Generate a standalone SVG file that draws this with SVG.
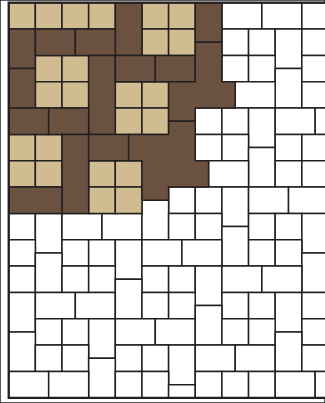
<svg xmlns="http://www.w3.org/2000/svg" width="325" height="403" viewBox="0 0 325 403">
<style>
rect, polygon { stroke: #231f20; stroke-width: 1.5; vector-effect: non-scaling-stroke; stroke-linejoin: miter; }
.w { fill: #ffffff; }
.t { fill: #d1bc92; }
.d { fill: #6b5240; }
.frame { fill: none; stroke-width: 2.2; }
</style>
<rect x="0" y="0" width="325" height="403" fill="#ffffff" stroke="none"/>
<g id="paving" transform="translate(8.7,2.7) scale(13.325,13.17)">
<g id="white-tiles" class="w">
<rect x="16" y="0" width="3" height="2"/>
<rect x="19" y="0" width="3" height="2"/>
<rect x="22" y="0" width="3" height="2"/>
<rect x="16" y="2" width="2" height="2"/>
<rect x="18" y="2" width="2" height="2"/>
<rect x="20" y="2" width="2" height="3"/>
<rect x="22" y="2" width="2" height="2"/>
<rect x="16" y="4" width="2" height="2"/>
<rect x="18" y="4" width="2" height="2"/>
<rect x="20" y="5" width="2" height="3"/>
<rect x="22" y="4" width="2" height="2"/>
<rect x="17" y="6" width="3" height="2"/>
<rect x="22" y="6" width="2" height="2"/>
<rect x="14" y="8" width="2" height="2"/>
<rect x="16" y="8" width="2" height="2"/>
<rect x="18" y="8" width="2" height="3"/>
<rect x="20" y="8" width="3" height="2"/>
<rect x="23" y="8" width="3" height="2"/>
<rect x="14" y="10" width="2" height="2"/>
<rect x="16" y="10" width="2" height="2"/>
<rect x="18" y="11" width="2" height="3"/>
<rect x="20" y="10" width="2" height="2"/>
<rect x="22" y="10" width="2" height="2"/>
<rect x="15" y="12" width="3" height="2"/>
<rect x="20" y="12" width="2" height="2"/>
<rect x="22" y="12" width="2" height="2"/>
<rect x="12" y="14" width="2" height="2"/>
<rect x="14" y="14" width="2" height="2"/>
<rect x="16" y="14" width="2" height="3"/>
<rect x="18" y="14" width="3" height="2"/>
<rect x="21" y="14" width="3" height="2"/>
<rect x="0" y="16" width="2" height="2"/>
<rect x="2" y="16" width="2" height="3"/>
<rect x="4" y="16" width="3" height="2"/>
<rect x="7" y="16" width="3" height="2"/>
<rect x="10" y="15" width="2" height="3"/>
<rect x="12" y="16" width="2" height="2"/>
<rect x="14" y="16" width="2" height="2"/>
<rect x="16" y="17" width="2" height="3"/>
<rect x="18" y="16" width="2" height="2"/>
<rect x="20" y="16" width="2" height="2"/>
<rect x="22" y="16" width="2" height="3"/>
<rect x="0" y="18" width="2" height="2"/>
<rect x="4" y="18" width="2" height="2"/>
<rect x="6" y="18" width="2" height="2"/>
<rect x="8" y="18" width="2" height="3"/>
<rect x="10" y="18" width="3" height="2"/>
<rect x="13" y="18" width="3" height="2"/>
<rect x="18" y="18" width="2" height="2"/>
<rect x="20" y="18" width="2" height="2"/>
<rect x="22" y="19" width="2" height="3"/>
<rect x="0" y="20" width="2" height="2"/>
<rect x="2" y="19" width="2" height="3"/>
<rect x="4" y="20" width="2" height="2"/>
<rect x="6" y="20" width="2" height="2"/>
<rect x="10" y="20" width="2" height="2"/>
<rect x="12" y="20" width="2" height="2"/>
<rect x="14" y="20" width="2" height="3"/>
<rect x="16" y="20" width="3" height="2"/>
<rect x="19" y="20" width="3" height="2"/>
<rect x="0" y="22" width="2" height="3"/>
<rect x="2" y="22" width="3" height="2"/>
<rect x="5" y="22" width="3" height="2"/>
<rect x="8" y="21" width="2" height="3"/>
<rect x="10" y="22" width="2" height="2"/>
<rect x="12" y="22" width="2" height="2"/>
<rect x="16" y="22" width="2" height="2"/>
<rect x="18" y="22" width="2" height="2"/>
<rect x="20" y="22" width="2" height="3"/>
<rect x="22" y="22" width="2" height="2"/>
<rect x="2" y="24" width="2" height="2"/>
<rect x="4" y="24" width="2" height="2"/>
<rect x="6" y="24" width="2" height="3"/>
<rect x="8" y="24" width="3" height="2"/>
<rect x="11" y="24" width="3" height="2"/>
<rect x="14" y="23" width="2" height="3"/>
<rect x="16" y="24" width="2" height="2"/>
<rect x="18" y="24" width="2" height="2"/>
<rect x="22" y="24" width="2" height="2"/>
<rect x="0" y="25" width="2" height="3"/>
<rect x="2" y="26" width="2" height="2"/>
<rect x="4" y="26" width="2" height="2"/>
<rect x="8" y="26" width="2" height="2"/>
<rect x="10" y="26" width="2" height="2"/>
<rect x="12" y="26" width="2" height="3"/>
<rect x="14" y="26" width="3" height="2"/>
<rect x="17" y="26" width="3" height="2"/>
<rect x="20" y="25" width="2" height="3"/>
<rect x="22" y="26" width="2" height="2"/>
<rect x="6" y="27" width="2" height="3"/>
<rect x="0" y="28" width="3" height="2"/>
<rect x="3" y="28" width="3" height="2"/>
<rect x="8" y="28" width="2" height="2"/>
<rect x="10" y="28" width="2" height="2"/>
<rect x="12" y="29" width="2" height="1"/>
<rect x="14" y="28" width="2" height="2"/>
<rect x="16" y="28" width="2" height="2"/>
<rect x="18" y="28" width="2" height="2"/>
<rect x="20" y="28" width="3" height="2"/>
<rect x="23" y="28" width="3" height="2"/>
</g>
<g id="tan-tiles" class="t">
<rect x="0" y="0" width="2" height="2"/>
<rect x="2" y="0" width="2" height="2"/>
<rect x="4" y="0" width="2" height="2"/>
<rect x="6" y="0" width="2" height="2"/>
<rect x="10" y="0" width="2" height="2"/>
<rect x="12" y="0" width="2" height="2"/>
<rect x="10" y="2" width="2" height="2"/>
<rect x="12" y="2" width="2" height="2"/>
<rect x="2" y="4" width="2" height="2"/>
<rect x="4" y="4" width="2" height="2"/>
<rect x="2" y="6" width="2" height="2"/>
<rect x="4" y="6" width="2" height="2"/>
<rect x="8" y="6" width="2" height="2"/>
<rect x="10" y="6" width="2" height="2"/>
<rect x="8" y="8" width="2" height="2"/>
<rect x="10" y="8" width="2" height="2"/>
<rect x="0" y="10" width="2" height="2"/>
<rect x="2" y="10" width="2" height="2"/>
<rect x="0" y="12" width="2" height="2"/>
<rect x="2" y="12" width="2" height="2"/>
<rect x="6" y="12" width="2" height="2"/>
<rect x="8" y="12" width="2" height="2"/>
<rect x="6" y="14" width="2" height="2"/>
<rect x="8" y="14" width="2" height="2"/>
</g>
<g id="dark-tiles" class="d">
<rect x="8" y="0" width="2" height="4"/>
<rect x="14" y="0" width="2" height="3"/>
<rect x="0" y="2" width="2" height="3"/>
<rect x="0" y="5" width="2" height="3"/>
<rect x="2" y="2" width="3" height="2"/>
<rect x="5" y="2" width="3" height="2"/>
<rect x="6" y="4" width="2" height="6"/>
<rect x="8" y="4" width="3" height="2"/>
<rect x="11" y="4" width="3" height="2"/>
<polygon points="14,3 16,3 16,6 17,6 17,8 14,8 14,9 12,9 12,6 14,6"/>
<rect x="0" y="8" width="3" height="2"/>
<rect x="3" y="8" width="3" height="2"/>
<rect x="4" y="10" width="2" height="6"/>
<rect x="6" y="10" width="3" height="2"/>
<polygon points="12,9 14,9 14,12 15,12 15,14 12,14 12,15 10,15 10,12 9,12 9,10 12,10"/>
<rect x="0" y="14" width="4" height="2"/>
</g>
<rect class="frame" x="0" y="0" width="26" height="30"/>
</g>
</svg>
